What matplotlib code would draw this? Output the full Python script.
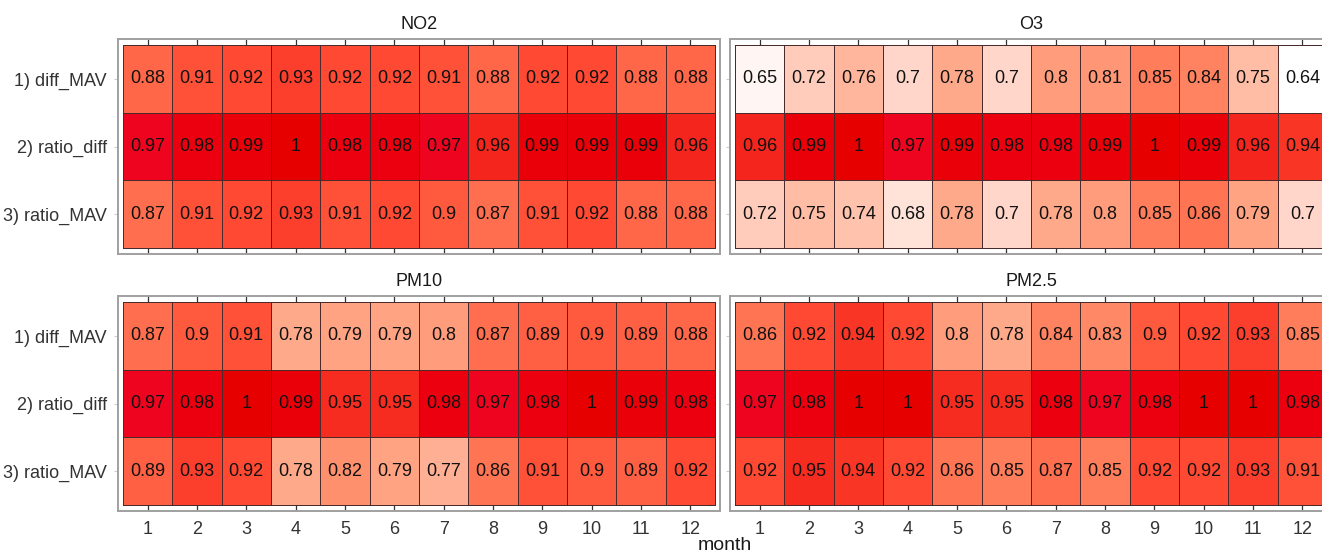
import numpy as np
import matplotlib
matplotlib.use("Agg")
import matplotlib.pyplot as plt
from matplotlib.colors import LinearSegmentedColormap, Normalize

plt.rcParams['font.family'] = ['Liberation Sans', 'DejaVu Sans']

# datos
months = list(range(1, 13))
methods = ["1) diff_MAV", "2) ratio_diff", "3) ratio_MAV"]
pollutants = ["NO2", "O3", "PM10", "PM2.5"]

no2 = [[0.88, 0.91, 0.92, 0.93, 0.92, 0.92, 0.91, 0.88, 0.92, 0.92, 0.88, 0.88],
       [0.97, 0.98, 0.99, 1, 0.98, 0.98, 0.97, 0.96, 0.99, 0.99, 0.99, 0.96],
       [0.87, 0.91, 0.92, 0.93, 0.91, 0.92, 0.9, 0.87, 0.91, 0.92, 0.88, 0.88]]
o3 = [[0.65, 0.72, 0.76, 0.7, 0.78, 0.7, 0.8, 0.81, 0.85, 0.84, 0.75, 0.64],
      [0.96, 0.99, 1, 0.97, 0.99, 0.98, 0.98, 0.99, 1, 0.99, 0.96, 0.94],
      [0.72, 0.75, 0.74, 0.68, 0.78, 0.7, 0.78, 0.8, 0.85, 0.86, 0.79, 0.7]]
pm10 = [[0.87, 0.9, 0.91, 0.78, 0.79, 0.79, 0.8, 0.87, 0.89, 0.9, 0.89, 0.88],
        [0.97, 0.98, 1, 0.99, 0.95, 0.95, 0.98, 0.97, 0.98, 1, 0.99, 0.98],
        [0.89, 0.93, 0.92, 0.78, 0.82, 0.79, 0.77, 0.86, 0.91, 0.9, 0.89, 0.92]]
pm25 = [[0.86, 0.92, 0.94, 0.92, 0.8, 0.78, 0.84, 0.83, 0.9, 0.92, 0.93, 0.85],
        [0.97, 0.98, 1, 1, 0.95, 0.95, 0.98, 0.97, 0.98, 1, 1, 0.98],
        [0.92, 0.95, 0.94, 0.92, 0.86, 0.85, 0.87, 0.85, 0.92, 0.92, 0.93, 0.91]]
datos = [no2, o3, pm10, pm25]

# escala de color (blanco -> rojo)
vmin, vmax = 0.64, 1.0
anclas = [(0.64, "#ffffff"), (0.65, "#fff5f2"), (0.70, "#ffd6c8"),
          (0.75, "#ffbda5"), (0.78, "#ffa98b"), (0.80, "#ff9c7b"),
          (0.85, "#ff7d5a"), (0.88, "#ff6748"), (0.92, "#ff4a34"),
          (0.95, "#f72c20"), (0.965, "#f3221c"), (0.97, "#ee0420"),
          (0.98, "#ec0010"), (1.0, "#e60000")]
cmap = LinearSegmentedColormap.from_list(
    "rojos", [((v - vmin) / (vmax - vmin), c) for v, c in anclas])
norm = Normalize(vmin=vmin, vmax=vmax)

W, H = 1322, 556
fig = plt.figure(figsize=(W / 100, H / 100), dpi=100)

# posiciones de los paneles en pixeles (izq, arriba)
paneles = [(118, 39), (730, 39), (118, 296), (730, 296)]
pw, ph = 602, 215

xe = np.arange(0.5, 13.5, 1)
ye = np.arange(0.5, 4.5, 1)

for k, (px, py) in enumerate(paneles):
    ax = fig.add_axes([px / W, 1 - (py + ph) / H, pw / W, ph / H])
    z = np.array(datos[k])
    ax.pcolormesh(xe, ye, z, cmap=cmap, norm=norm,
                  edgecolors="#4a2a2a", linewidth=0.6)
    for i in range(3):
        for j in range(12):
            ax.text(j + 1, i + 1, f"{z[i, j]:g}", ha="center", va="center",
                    fontsize=13, color="#111111")
    ax.set_xlim(0.4, 12.6)
    ax.set_ylim(3.59, 0.41)
    ax.set_xticks(months)
    ax.set_yticks([1, 2, 3])
    for s in ax.spines.values():
        s.set_color("#a0a0a0")
        s.set_linewidth(1.4)
    ax.tick_params(axis="x", direction="in", length=4.5, width=0.9,
                   color="#333333", top=True, bottom=True,
                   labelsize=13, labelcolor="#333333", pad=7)
    if k >= 2:
        ax.set_xticklabels([str(m) for m in months])
    else:
        ax.set_xticklabels([])
    ax.tick_params(axis="y", direction="out", length=3, width=0.8,
                   color="#cccccc", labelsize=13, labelcolor="#333333", pad=5)
    if k % 2 == 0:
        ax.set_yticklabels(methods)
    else:
        ax.set_yticklabels([])
    ax.set_title(pollutants[k], fontsize=13, color="#1a1a1a", pad=7)

fig.text(725 / W, 1 - 546 / H, "month", ha="center", va="center",
         fontsize=14, color="#1a1a1a")

fig.savefig("out.png", dpi=100)
